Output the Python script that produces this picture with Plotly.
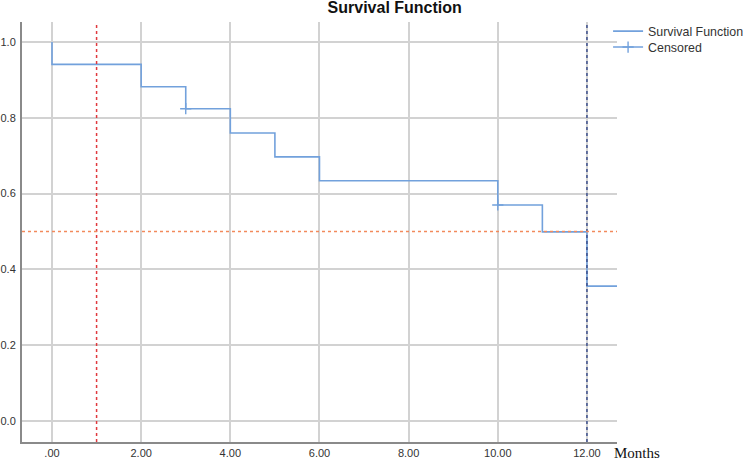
import plotly.graph_objects as go

# Kaplan-Meier estimate
event_times = [0, 0, 2, 3, 4, 5, 6, 10, 11, 12, 12.7]
survival = [1.0, 0.941, 0.882, 0.824, 0.760, 0.697, 0.634, 0.570, 0.499, 0.356, 0.356]

censor_times = [3, None, 10]
censor_survival = [0.824, None, 0.570]

# reference lines
median_level = 0.5
red_line_month = 1
blue_line_month = 12

x_ticks = [0, 2, 4, 6, 8, 10, 12]
x_tick_text = [".00", "2.00", "4.00", "6.00", "8.00", "10.00", "12.00"]
y_ticks = [0, 0.2, 0.4, 0.6, 0.8, 1.0]

blue = "#72a1dc"

fig = go.Figure()

fig.add_trace(go.Scatter(
    x=event_times, y=survival, mode="lines", line_shape="hv",
    line=dict(color=blue, width=1.6), name="Survival Function", legend="legend",
))
fig.add_trace(go.Scatter(
    x=censor_times, y=censor_survival, mode="lines+markers",
    line=dict(color=blue, width=1.4),
    marker=dict(symbol="cross-thin", size=8, line=dict(color=blue, width=1.4)),
    name="Censored", connectgaps=False, legend="legend2",
))

fig.add_vline(x=red_line_month, line=dict(color="#e0393e", width=1.5, dash="dot"))
fig.add_vline(x=blue_line_month, line=dict(color="#3c4f8c", width=1.5, dash="dot"))
fig.add_hline(y=median_level, line=dict(color="#f28a5c", width=1.5, dash="dot"))

fig.add_annotation(
    text="Months", xref="paper", yref="paper", x=1.0, y=0, xshift=-5, yshift=-11,
    xanchor="left", yanchor="middle", showarrow=False,
    font=dict(family="Liberation Serif", size=15, color="#111"),
)

leg = dict(xanchor="left", yanchor="top", font=dict(size=12.4, color="#333"),
           bgcolor="rgba(0,0,0,0)", itemwidth=30)

fig.update_layout(
    width=749, height=460,
    margin=dict(l=22, r=132, t=22, b=18, autoexpand=False),
    paper_bgcolor="white", plot_bgcolor="white",
    font=dict(family="Liberation Sans", size=11, color="#333"),
    title=dict(text="<b>Survival Function</b>", x=0.527, xref="container", xanchor="center",
               y=0.983, yref="container", yanchor="middle",
               font=dict(family="Liberation Sans", size=16, color="#111")),
    showlegend=True,
    legend=dict(leg, x=0.985, y=1.013),
    legend2=dict(leg, x=0.985, y=0.975),
)

fig.update_xaxes(
    range=[-0.673, 12.674], tickvals=x_ticks, ticktext=x_tick_text,
    showgrid=True, gridcolor="#d2d2d2", gridwidth=1.5, zeroline=False,
    showline=True, linecolor="#8a8a8a", linewidth=2,
    ticks="", automargin=False,
)
fig.update_yaxes(
    range=[-0.0554, 1.0528], tickvals=y_ticks, tickformat=".1f",
    showgrid=True, gridcolor="#d2d2d2", gridwidth=1.5, zeroline=False,
    showline=True, linecolor="#8a8a8a", linewidth=2,
    ticks="outside", ticklen=2, tickcolor="rgba(0,0,0,0)", automargin=False,
)

fig.write_html("out.html", config={"displayModeBar": False},
               post_script="document.body.style.margin='0';")
